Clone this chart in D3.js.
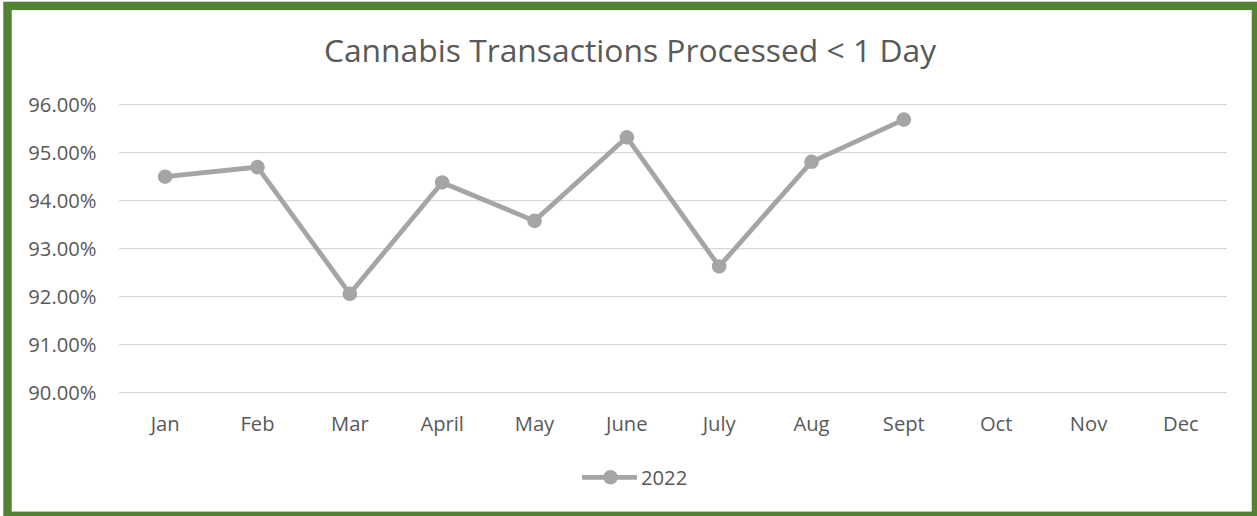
<!DOCTYPE html>
<html>
<head>
<meta charset="utf-8">
<script src="https://cdn.jsdelivr.net/npm/d3@7"></script>
<style>
  html, body { margin: 0; padding: 0; background: #fff; }
  svg { display: block; }
  text { font-family: "Open Sans", "Noto Sans", sans-serif; fill: #595959; }
</style>
</head>
<body>
<svg id="chart" width="1257" height="516"></svg>
<script>
const title = "Cannabis Transactions Processed < 1 Day";
const months = ["Jan","Feb","Mar","April","May","June","July","Aug","Sept","Oct","Nov","Dec"];
const values2022 = [94.50, 94.70, 92.06, 94.38, 93.58, 95.32, 92.63, 94.81, 95.69];
const yTicks = [90, 91, 92, 93, 94, 95, 96];
const seriesName = "2022";

const W = 1257, H = 516;
const svg = d3.select("#chart");

// border
svg.append("rect")
  .attr("x", 7.5).attr("y", 5.9)
  .attr("width", 1248.4).attr("height", 509.9)
  .attr("fill", "#fff")
  .attr("stroke", "#548235")
  .attr("stroke-width", 8.4);

const plot = { left: 119, right: 1227, top: 104.7, bottom: 392.7 };

const x = d3.scaleBand().domain(months).range([plot.left, plot.right]).padding(0);
const y = d3.scaleLinear().domain([90, 96]).range([plot.bottom, plot.top]);

// gridlines
svg.append("g").selectAll("line").data(yTicks).join("line")
  .attr("x1", plot.left).attr("x2", plot.right)
  .attr("y1", d => y(d)).attr("y2", d => y(d))
  .attr("stroke", "#d9d9d9").attr("stroke-width", 1.3);

// y axis labels
const yAxis = d3.axisLeft(y).tickValues(yTicks).tickSize(0).tickPadding(0)
  .tickFormat(d => d3.format(".2f")(d) + "%");
const yg = svg.append("g").attr("transform", `translate(96.5,0)`).call(yAxis);
yg.select(".domain").remove();
yg.selectAll("text").attr("font-size", 20.2).attr("fill", "#595959")
  .style("font-family", '"Open Sans", sans-serif').attr("dy", "0.36em");

// x axis labels
const xAxis = d3.axisBottom(x).tickSize(0).tickPadding(0);
const xg = svg.append("g").attr("transform", `translate(0,${plot.bottom})`).call(xAxis);
xg.select(".domain").remove();
xg.selectAll("text").attr("font-size", 20.2).attr("fill", "#595959")
  .style("font-family", '"Open Sans", sans-serif')
  .attr("y", 38.8).attr("dy", 0);

// line
const cx = (d, i) => x(months[i]) + x.bandwidth() / 2;
const line = d3.line().x(cx).y(d => y(d));
svg.append("path").datum(values2022)
  .attr("d", line)
  .attr("fill", "none")
  .attr("stroke", "#a5a5a5")
  .attr("stroke-width", 4.8)
  .attr("stroke-linejoin", "round");

svg.append("g").selectAll("circle").data(values2022).join("circle")
  .attr("cx", cx).attr("cy", d => y(d)).attr("r", 7.3)
  .attr("fill", "#a5a5a5");

// title
svg.append("text")
  .attr("x", 630).attr("y", 61.7)
  .attr("text-anchor", "middle")
  .attr("font-size", 31.8)
  .attr("fill", "#595959")
  .text(title);

// legend
const lg = svg.append("g");
lg.append("line").attr("x1", 582).attr("x2", 637).attr("y1", 477.3).attr("y2", 477.3)
  .attr("stroke", "#a5a5a5").attr("stroke-width", 4.8);
lg.append("circle").attr("cx", 610.5).attr("cy", 477.3).attr("r", 7.3).attr("fill", "#a5a5a5");
lg.append("text").attr("x", 641).attr("y", 484.8).attr("font-size", 20.2)
  .attr("fill", "#595959").text(seriesName);
</script>
</body>
</html>
